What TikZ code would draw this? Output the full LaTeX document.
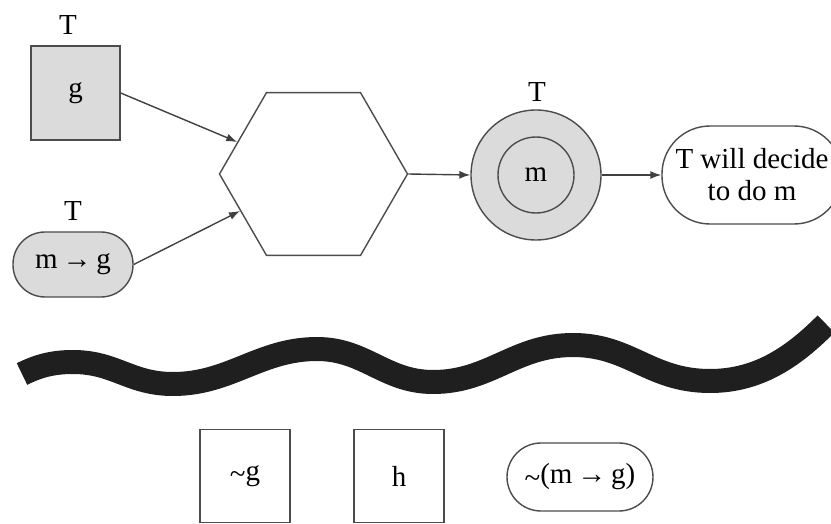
\documentclass[tikz,border=0pt]{standalone}
\usepackage{fontspec}
\setmainfont{Liberation Serif}
\usetikzlibrary{shapes.geometric}
\usetikzlibrary{arrows.meta}
\usetikzlibrary{positioning}

\newcommand{\nt}{\raisebox{-0.25ex}{\textasciitilde}}

\begin{document}
\begin{tikzpicture}[x=0.5pt, y=-0.5pt, >={Latex[length=5.5pt,width=4pt]},
  every node/.style={font=\fontsize{14.5}{16}\selectfont, inner sep=0pt},
  sq/.style={draw=black!70, line width=0.7pt, minimum width=44.5pt, minimum height=47pt},
  pill/.style={draw=black!70, line width=0.7pt},
  shade/.style={fill=black!14},
  arr/.style={->, draw=black!75, line width=0.7pt}]
  \useasboundingbox (0,0) rectangle (831,524);

  % ===== top: premises =====
  \node (tg) at (68,25) {T};
  \node[sq, shade] (g) at (75.5,93) {g};
  \node (tmg) at (73,211) {T};
  \node[pill, shade, rounded corners=16pt, minimum width=60pt, minimum height=32.5pt]
    (mg) at (73,264.5) {m\,→\,g};

  % hexagon
  \node[draw=black!70, line width=0.7pt, regular polygon, regular polygon sides=6,
    minimum size=94pt] (hex) at (313.5,174) {};

  % conclusion
  \node[circle, draw=black!70, line width=0.7pt, shade, minimum size=65pt] (goal) at (536,175) {};
  \node[circle, draw=black!70, line width=0.7pt, shade, minimum size=38pt] (m) at (536,175) {m};
  \node (tm) at (537,92) {T};
  \node[pill, rounded corners=24pt, minimum width=90pt, minimum height=49pt, align=center]
    (decide) at (752,175) {T will decide\\to do m};

  \draw[arr] (g.east) -- (hex);
  \draw[arr] (mg.east) -- (hex);
  \draw[arr] (hex.east) -- (goal.west);
  \draw[arr] (goal.east) -- (decide.west);

  % ===== wavy divider =====
  \draw[line width=12pt, black!88]
    (22,374) .. controls (40,365) and (55,362) .. (73,362)
    .. controls (115,362) and (130,384) .. (173,384)
    .. controls (230,384) and (260,349) .. (317,349)
    .. controls (365,349) and (385,382) .. (433,382)
    .. controls (490,382) and (515,345) .. (573,345)
    .. controls (630,345) and (650,381) .. (710,381)
    .. controls (760,381) and (795,355) .. (826,324);

  % ===== bottom =====
  \node[sq, minimum width=45pt, minimum height=46.5pt] (notg) at (245,476) {\nt g};
  \node[sq, minimum width=45pt, minimum height=46.5pt] (h) at (399,476) {h};
  \node[pill, rounded corners=17pt, minimum width=73pt, minimum height=34pt]
    (notmg) at (580,477) {\nt(m\,→\,g)};
\end{tikzpicture}
\end{document}
